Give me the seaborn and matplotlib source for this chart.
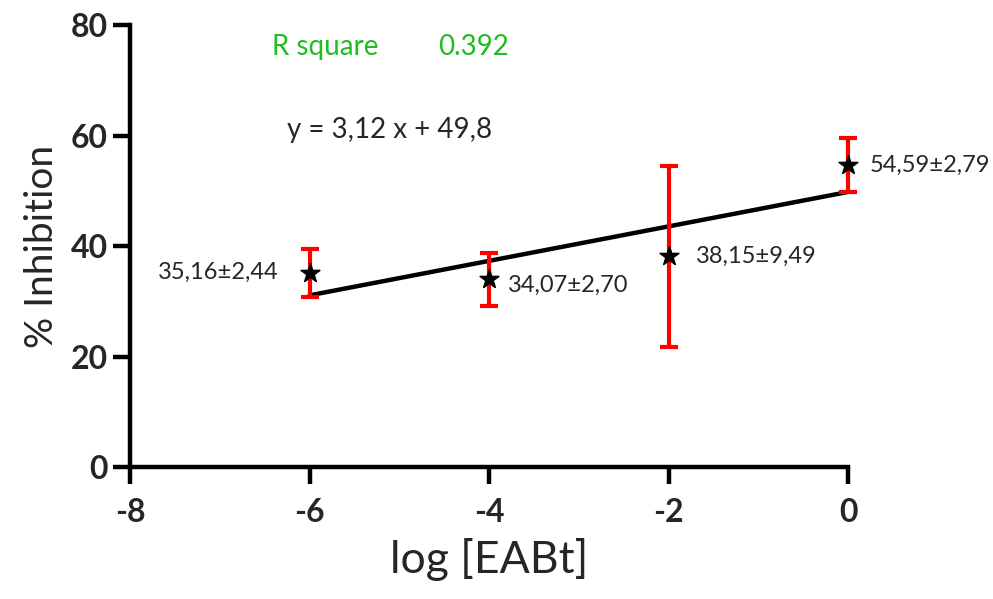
import matplotlib
matplotlib.use("Agg")
import numpy as np
import seaborn as sns
import matplotlib.pyplot as plt

# data
log_conc = [-6, -4, -2, 0]
inhibition = [35.16, 34.07, 38.15, 54.59]
err_low = [4.4, 5.0, 16.5, 4.8]
err_high = [4.3, 4.6, 16.4, 4.9]
labels = ["35,16±2,44", "34,07±2,70", "38,15±9,49", "54,59±2,79"]
slope = 3.12
intercept = 49.8
r_square = "0.392"

sns.set_style("ticks")
plt.rcParams['font.family'] = ['Lato', 'DejaVu Sans']

fig = plt.figure(figsize=(9.93, 5.99), dpi=100)
ax = fig.add_axes([0.131, 0.2204, 0.723, 0.7376])

# regression line over the data range
fit_x = np.array([min(log_conc), max(log_conc)])
fit_y = slope * fit_x + intercept
sns.lineplot(x=fit_x, y=fit_y, color="black", lw=3.2, ax=ax, zorder=2)

eb = ax.errorbar(log_conc, inhibition, yerr=[err_low, err_high], fmt="none",
                 ecolor="red", elinewidth=3, capsize=6.5, capthick=3, zorder=3)
for art in eb.lines[1] + eb.lines[2]:
    art.set_clip_on(False)
sns.scatterplot(x=log_conc, y=inhibition, marker="*", s=200, color="black",
                edgecolor="black", ax=ax, zorder=4)
for c in ax.collections:
    c.set_clip_on(False)

# value labels
ax.text(-6.35, inhibition[0], labels[0], ha="right", va="center", fontsize=17)
ax.text(-3.79, inhibition[1] - 1.2, labels[1], ha="left", va="center", fontsize=17)
ax.text(-1.70, inhibition[2], labels[2], ha="left", va="center", fontsize=17)
ax.text(0.245, inhibition[3], labels[3], ha="left", va="center", fontsize=17)

ax.text(-6.42, 76, "R square", color="#22bb22", ha="left", va="center", fontsize=20)
ax.text(-4.57, 76, r_square, color="#22bb22", ha="left", va="center", fontsize=20)
ax.text(-6.25, 61, "y = 3,12 x + 49,8", ha="left", va="center", fontsize=20)

ax.set_xlim(-8, 0)
ax.set_ylim(0, 80)
ax.set_xticks([-8, -6, -4, -2, 0])
ax.set_yticks([0, 20, 40, 60, 80])
ax.set_xticklabels(["-8", "-6", "-4", "-2", "0"], fontweight="bold")
ax.set_yticklabels(["0", "20", "40", "60", "80"], fontweight="bold")
ax.tick_params(axis="both", length=12, width=3.2, labelsize=23, color="black")
ax.tick_params(axis="x", pad=10)
ax.tick_params(axis="y", pad=4)

for s in ["left", "bottom"]:
    ax.spines[s].set_linewidth(3.2)
    ax.spines[s].set_color("black")
sns.despine(ax=ax)

ax.set_xlabel("log [EABt]", fontsize=32, labelpad=8)
ax.set_ylabel("% Inhibition", fontsize=28, labelpad=8)

plt.savefig("out.png", dpi=100)
